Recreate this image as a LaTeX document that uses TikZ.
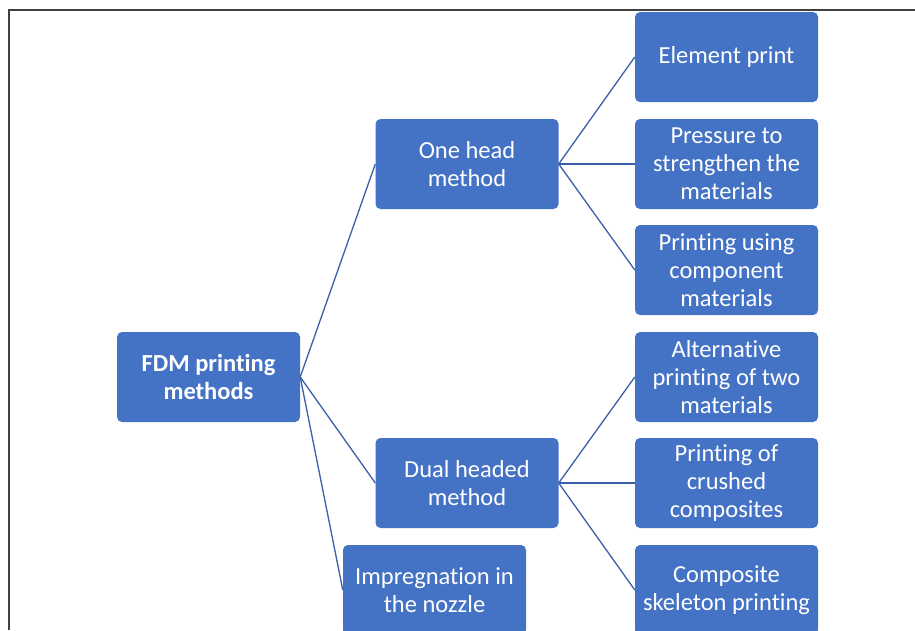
\documentclass[tikz,border=0pt]{standalone}
\usepackage{fontspec}
\setmainfont{Carlito}[Ligatures={NoCommon}]
\usepackage{tikz}
\definecolor{boxblue}{HTML}{4472C4}
\definecolor{lineblue}{HTML}{3A5FA8}

\begin{document}
\begin{tikzpicture}[x=1pt,y=-1pt,
    method/.style={rectangle,rounded corners=5pt,fill=boxblue,text=white,
      minimum width=183pt,minimum height=90pt,inner sep=0pt,align=center,
      font=\fontsize{24.5}{28}\selectfont},
    link/.style={lineblue,line width=1.3pt}]

\clip (0,0) rectangle (915,630);
\draw[line width=1.4pt,black!75] (9,630) -- (9,10) -- (915,10);

\node[method,font=\fontsize{24.5}{28}\selectfont\bfseries] (0) at (208.5,377) {FDM printing\\methods};

\node[method] (1) at (467,164) {One head\\method};
\node[method] (2) at (467,483) {Dual headed\\method};
\node[method] (3) at (434.5,590) {Impregnation in\\the nozzle};

\node[method] (11) at (726.5,57) {Element print};
\node[method] (12) at (726.5,164) {Pressure to\\strengthen the\\materials};
\node[method] (13) at (726.5,270) {Printing using\\component\\materials};
\node[method] (21) at (726.5,377) {Alternative\\printing of two\\materials};
\node[method] (22) at (726.5,483) {Printing of\\crushed\\composites};
\node[method] (23) at (726.5,590) {Composite\\skeleton printing};

\draw[link] (0.east) -- (1.west);
\draw[link] (0.east) -- (2.west);
\draw[link] (0.east) -- (3.west);

\draw[link] (1.east) -- (11.west);
\draw[link] (1.east) -- (12.west);
\draw[link] (1.east) -- (13.west);
\draw[link] (2.east) -- (21.west);
\draw[link] (2.east) -- (22.west);
\draw[link] (2.east) -- (23.west);
\end{tikzpicture}
\end{document}
